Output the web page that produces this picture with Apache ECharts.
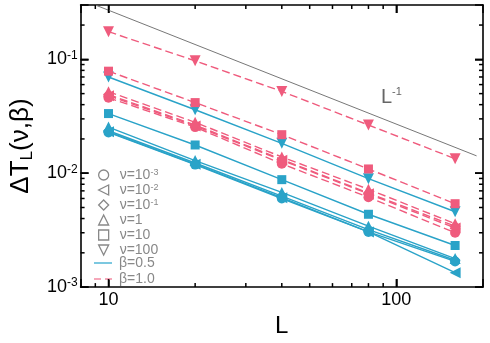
<!DOCTYPE html>
<html>
<head>
<meta charset="utf-8">
<script src="https://cdn.jsdelivr.net/npm/echarts@6/dist/echarts.min.js"></script>
<style>
  html, body { margin: 0; padding: 0; background: #fff; }
  #chart { width: 490px; height: 343px; }
</style>
</head>
<body>
<div id="chart"></div>
<script>
// system sizes
var sizesL = [10, 20, 40, 80, 160];

// beta = 0.5 (solid blue)
var b05_nu1e3 = [0.0228, 0.0119, 0.0060, 0.00305, 0.00168];
var b05_nu1e2 = [0.0231, 0.0120, 0.0061, 0.00305, 0.00134];
var b05_nu1e1 = [0.0236, 0.0123, 0.0063, 0.0032, 0.00172];
var b05_nu1   = [0.0254, 0.0129, 0.00678, 0.00343, 0.00178];
var b05_nu10  = [0.0334, 0.0177, 0.00878, 0.00436, 0.00232];
var b05_nu100 = [0.070, 0.0361, 0.0183, 0.00895, 0.00459];

// beta = 1.0 (dashed pink)
var b10_nu1e3 = [0.046, 0.0254, 0.0121, 0.00615, 0.0030];
var b10_nu1e2 = [0.048, 0.026, 0.0130, 0.0066, 0.0033];
var b10_nu1e1 = [0.049, 0.0265, 0.0132, 0.0067, 0.00343];
var b10_nu1   = [0.052, 0.028, 0.0139, 0.00723, 0.0036];
var b10_nu10  = [0.0787, 0.0417, 0.0218, 0.0109, 0.0054];
var b10_nu100 = [0.175, 0.097, 0.0523, 0.0265, 0.0134];

// L^-1 guide line
var refL = [9, 190];
var refT = [0.3, 0.0142];

// axis ticks and ranges
var xRange = [8, 200];
var yRange = [0.001, 0.3];
var xMajor = [10, 100];
var xMinor = [9, 20, 30, 40, 50, 60, 70, 80, 90];
var yMajor = [0.001, 0.01, 0.1];
var yMinor = [0.002, 0.003, 0.004, 0.005, 0.006, 0.007, 0.008, 0.009,
              0.02, 0.03, 0.04, 0.05, 0.06, 0.07, 0.08, 0.09, 0.2];

var symLegend = ['ν=10^-3', 'ν=10^-2', 'ν=10^-1', 'ν=1', 'ν=10', 'ν=100'];
var lineLegend = ['β=0.5', 'β=1.0'];

var blue = '#2aa3c8';
var pink = '#ef5b7d';
var gray = '#888';
var font = 'Liberation Sans, Arial, sans-serif';

var symbols = [
  ['circle', 0], ['triangle', 90], ['diamond', 0],
  ['triangle', 0], ['rect', 0], ['triangle', 180]
];
var symSizes = [10, 11, 11, 11, 9, 11];
var legendIcons = [
  'circle',
  'path://M10,0L10,10L0,5Z',
  'diamond',
  'path://M5,0L10,10L0,10Z',
  'rect',
  'path://M0,0L10,0L5,10Z'
];

function makeSeries(id, vals, color, k, dashed) {
  return {
    name: id,
    type: 'line',
    xAxisIndex: 0,
    yAxisIndex: 0,
    data: sizesL.map(function(l, i) { return [l, vals[i]]; }),
    symbol: symbols[k][0],
    symbolRotate: symbols[k][1],
    symbolSize: symSizes[k],
    showAllSymbol: true,
    itemStyle: { color: color },
    lineStyle: { color: color, width: 1.4, type: dashed ? [8, 4] : 'solid' },
    emphasis: { disabled: true },
    silent: true,
    z: dashed ? 3 : 2
  };
}

var series = [];
[b05_nu1e3, b05_nu1e2, b05_nu1e1, b05_nu1, b05_nu10, b05_nu100].forEach(function(v, k) {
  series.push(makeSeries('b05_' + k, v, blue, k, false));
});
[b10_nu1e3, b10_nu1e2, b10_nu1e1, b10_nu1, b10_nu10, b10_nu100].forEach(function(v, k) {
  series.push(makeSeries('b10_' + k, v, pink, k, true));
});
series.push({
  name: 'ref',
  type: 'line',
  data: refL.map(function(l, i) { return [l, refT[i]]; }),
  symbol: 'none',
  lineStyle: { color: '#777', width: 1 },
  silent: true,
  z: 1
});

// inward minor ticks on all four sides, placed through the axes' own scales
function tickSeries(name, items, edge, dir) {
  return {
    name: name,
    type: 'custom',
    clip: false,
    z: 10,
    data: items,
    renderItem: function(params, api) {
      var len = api.value(2);
      var p;
      if (edge === 'bottom' || edge === 'top') {
        p = api.coord([api.value(0), edge === 'bottom' ? yRange[0] : yRange[1]]);
        return {
          type: 'line',
          shape: { x1: p[0], y1: p[1], x2: p[0], y2: p[1] + dir * len },
          style: { stroke: '#000', lineWidth: 1.5 }
        };
      }
      p = api.coord([edge === 'left' ? xRange[0] : xRange[1], api.value(1)]);
      return {
        type: 'line',
        shape: { x1: p[0], y1: p[1], x2: p[0] + dir * len, y2: p[1] },
        style: { stroke: '#000', lineWidth: 1.5 }
      };
    }
  };
}
var xTickItems = xMajor.map(function(v) { return [v, yRange[0], 8]; })
  .concat(xMinor.map(function(v) { return [v, yRange[0], 4]; }));
var yTickItems = yMajor.map(function(v) { return [xRange[0], v, 8]; })
  .concat(yMinor.map(function(v) { return [xRange[0], v, 4]; }));
series.push(tickSeries('tb', xTickItems, 'bottom', -1));
series.push(tickSeries('tt', xTickItems, 'top', 1));
series.push(tickSeries('tl', yTickItems, 'left', 1));
series.push(tickSeries('tr', yTickItems, 'right', -1));

// legend-only entries
symLegend.concat(lineLegend).forEach(function(n) {
  series.push({ name: n, type: 'line', data: [], symbol: 'none' });
});

var symLegendData = symLegend.map(function(n, i) {
  return {
    name: n,
    icon: legendIcons[i],
    itemStyle: { color: 'transparent', borderColor: gray, borderWidth: 1.3 }
  };
});
var lineLegendData = [
  { name: lineLegend[0], icon: 'path://M0,0h18v1.6h-18z', itemStyle: { color: '#5bbad8', borderWidth: 0 } },
  { name: lineLegend[1], icon: 'path://M0,0h7v1.6h-7zM11,0h7v1.6h-7z', itemStyle: { color: '#f48aa2', borderWidth: 0 } }
];

function legendFormatter(n) {
  var p = n.split('^');
  return p.length > 1 ? '{t|' + p[0] + '}{s|' + p[1] + '}' : '{t|' + n + '}';
}
function legendText(pad) {
  return {
    color: gray,
    rich: {
      t: { fontSize: 14, fontFamily: font, color: gray, lineHeight: 13, padding: [0, 0, 0, pad] },
      s: { fontSize: 9, fontFamily: font, color: gray, verticalAlign: 'top', lineHeight: 13 }
    }
  };
}

// major (decade) ticks come from the axes themselves
var majorTick = { show: true, inside: true, length: 8, lineStyle: { color: '#000', width: 1.5 } };

var option = {
  animation: false,
  backgroundColor: '#fff',
  textStyle: { fontFamily: font },
  grid: { left: 71, right: 7, top: 5, bottom: 44, containLabel: false },
  xAxis: [{
    type: 'log', position: 'bottom', min: xRange[0], max: xRange[1], logBase: 10,
    axisLine: { show: true, lineStyle: { color: '#000', width: 1.6 } },
    axisTick: majorTick,
    axisLabel: { show: true, customValues: xMajor, margin: 4, color: '#000', fontSize: 18, fontFamily: font },
    splitLine: { show: false },
    name: 'L',
    nameLocation: 'middle',
    nameGap: 15,
    nameTextStyle: { fontSize: 24, fontFamily: font, color: '#000' }
  }, {
    type: 'log', position: 'top', min: xRange[0], max: xRange[1], logBase: 10,
    axisLine: { show: true, lineStyle: { color: '#000', width: 1.6 } },
    axisTick: majorTick,
    axisLabel: { show: false },
    splitLine: { show: false }
  }],
  yAxis: [{
    type: 'log', position: 'left', min: yRange[0], max: yRange[1], logBase: 10,
    axisLine: { show: true, lineStyle: { color: '#000', width: 1.6 } },
    axisTick: majorTick,
    axisLabel: {
      show: true, customValues: yMajor, margin: 3, color: '#000',
      formatter: function(v) {
        var e = Math.round(Math.log(v) / Math.LN10);
        return '{b|10}{s|' + e + '}';
      },
      rich: {
        b: { fontSize: 18, fontFamily: font, color: '#000', lineHeight: 20 },
        s: { fontSize: 12, fontFamily: font, color: '#000', verticalAlign: 'top', lineHeight: 20 }
      }
    },
    splitLine: { show: false },
    name: '{a|ΔT}{u|L}{a|(ν,β)}',
    nameLocation: 'middle',
    nameGap: 38,
    nameTextStyle: {
      rich: {
        a: { fontSize: 26, fontFamily: font, color: '#000', lineHeight: 30 },
        u: { fontSize: 17, fontFamily: font, color: '#000', verticalAlign: 'bottom', lineHeight: 30 }
      }
    }
  }, {
    type: 'log', position: 'right', min: yRange[0], max: yRange[1], logBase: 10,
    axisLine: { show: true, lineStyle: { color: '#000', width: 1.6 } },
    axisTick: majorTick,
    axisLabel: { show: false },
    splitLine: { show: false }
  }],
  legend: [{
    orient: 'vertical',
    left: 93,
    top: 163,
    itemWidth: 10,
    itemHeight: 10,
    itemGap: 1,
    selectedMode: false,
    data: symLegendData,
    formatter: legendFormatter,
    textStyle: legendText(6)
  }, {
    orient: 'vertical',
    left: 89,
    top: 251,
    itemWidth: 18,
    itemHeight: 10,
    itemGap: 2,
    selectedMode: false,
    data: lineLegendData,
    formatter: legendFormatter,
    textStyle: legendText(2)
  }],
  graphic: [{
    type: 'text',
    left: 381,
    top: 86,
    silent: true,
    style: {
      text: '{b|L}{s|-1}',
      rich: {
        b: { fontSize: 20, fontFamily: font, fill: '#666', lineHeight: 22 },
        s: { fontSize: 11, fontFamily: font, fill: '#666', verticalAlign: 'top', lineHeight: 22 }
      }
    }
  }],
  series: series
};

var myChart = echarts.init(document.getElementById('chart'), null, { renderer: 'canvas' });
myChart.setOption(option);
</script>
</body>
</html>
